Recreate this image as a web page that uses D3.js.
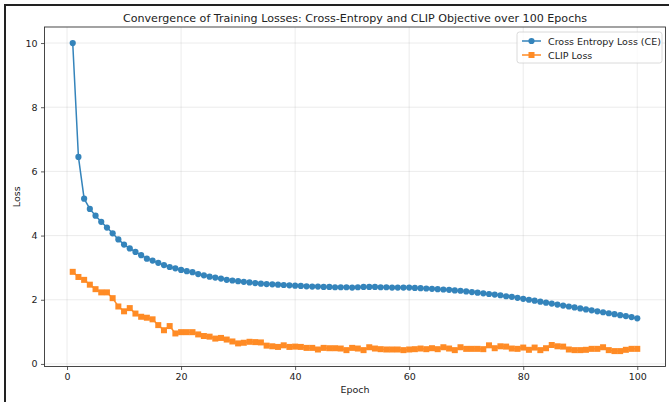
<!DOCTYPE html>
<html>
<head>
<meta charset="utf-8">
<script src="https://cdn.jsdelivr.net/npm/d3@7"></script>
<style>
  body { margin: 0; background: #fff; }
  text { font-family: "DejaVu Sans", sans-serif; fill: #222; }
</style>
</head>
<body>
<div id="chart"></div>
<script>
// epochs 1..100
const epochs = d3.range(1, 101);

const ceLoss = [
  10.0, 6.45, 5.15, 4.83, 4.62, 4.43, 4.25, 4.07, 3.88, 3.72,
  3.60, 3.49, 3.39, 3.28, 3.22, 3.15, 3.08, 3.02, 2.98, 2.93,
  2.89, 2.86, 2.80, 2.76, 2.72, 2.69, 2.66, 2.62, 2.60, 2.58,
  2.56, 2.54, 2.52, 2.50, 2.49, 2.48, 2.47, 2.46, 2.45, 2.44,
  2.43, 2.42, 2.41, 2.41, 2.40, 2.40, 2.39, 2.39, 2.39, 2.38,
  2.39, 2.40, 2.40, 2.40, 2.39, 2.39, 2.38, 2.38, 2.38, 2.38,
  2.37, 2.36, 2.35, 2.34, 2.33, 2.32, 2.31, 2.29, 2.28, 2.26,
  2.24, 2.22, 2.20, 2.18, 2.16, 2.14, 2.11, 2.09, 2.06, 2.03,
  2.00, 1.97, 1.94, 1.91, 1.88, 1.85, 1.82, 1.79, 1.76, 1.73,
  1.70, 1.67, 1.64, 1.61, 1.58, 1.55, 1.52, 1.49, 1.46, 1.42
];

const clipLoss = [
  2.87, 2.71, 2.62, 2.47, 2.33, 2.23, 2.23, 2.05, 1.79, 1.64,
  1.74, 1.57, 1.47, 1.44, 1.39, 1.21, 1.05, 1.18, 0.95, 0.99,
  0.99, 0.99, 0.92, 0.87, 0.85, 0.79, 0.81, 0.76, 0.70, 0.64,
  0.66, 0.69, 0.68, 0.67, 0.57, 0.55, 0.53, 0.58, 0.53, 0.54,
  0.53, 0.50, 0.50, 0.45, 0.50, 0.49, 0.49, 0.48, 0.43, 0.50,
  0.48, 0.43, 0.52, 0.48, 0.46, 0.45, 0.45, 0.45, 0.43, 0.45,
  0.46, 0.48, 0.46, 0.49, 0.46, 0.52, 0.48, 0.43, 0.52, 0.47,
  0.47, 0.47, 0.46, 0.58, 0.49, 0.55, 0.54, 0.48, 0.47, 0.51,
  0.44, 0.51, 0.43, 0.49, 0.59, 0.55, 0.54, 0.45, 0.43, 0.43,
  0.44, 0.47, 0.47, 0.52, 0.43, 0.40, 0.40, 0.44, 0.47, 0.47
];

const xTicks = [0, 20, 40, 60, 80, 100];
const yTicks = [0, 2, 4, 6, 8, 10];
const seriesNames = ["Cross Entropy Loss (CE)", "CLIP Loss"];
const colors = ["#1f77b4", "#ff7f0e"];

const W = 669, H = 402;
const plot = { left: 44.5, right: 665.5, top: 27, bottom: 366.5 };

const svg = d3.select("#chart").append("svg")
  .attr("width", W).attr("height", H);

// outer frame (screenshot border)
svg.append("rect")
  .attr("x", 5).attr("y", 5).attr("width", 720).attr("height", 440)
  .attr("fill", "none").attr("stroke", "#222").attr("stroke-width", 2);

const x = d3.scaleLinear().domain([-3.95, 104.95]).range([plot.left, plot.right]);
const y = d3.scaleLinear().domain([-0.08, 10.5]).range([plot.bottom, plot.top]);

// grid
const grid = svg.append("g");
grid.selectAll(".gx").data(xTicks).join("line")
  .attr("x1", d => x(d)).attr("x2", d => x(d))
  .attr("y1", plot.top).attr("y2", plot.bottom)
  .attr("stroke", "#b0b0b0").attr("stroke-opacity", 0.3).attr("stroke-width", 0.8);
grid.selectAll(".gy").data(yTicks).join("line")
  .attr("x1", plot.left).attr("x2", plot.right)
  .attr("y1", d => y(d)).attr("y2", d => y(d))
  .attr("stroke", "#b0b0b0").attr("stroke-opacity", 0.3).attr("stroke-width", 0.8);

// axes
const xAxis = svg.append("g")
  .attr("transform", `translate(0,${plot.bottom})`)
  .call(d3.axisBottom(x).tickValues(xTicks).tickSize(3.5).tickPadding(3.5).tickFormat(d3.format("d")));
const yAxis = svg.append("g")
  .attr("transform", `translate(${plot.left},0)`)
  .call(d3.axisLeft(y).tickValues(yTicks).tickSize(3.5).tickPadding(3.5).tickFormat(d3.format("d")));
[xAxis, yAxis].forEach(a => {
  a.select(".domain").remove();
  a.selectAll("line").attr("stroke", "#333").attr("stroke-width", 0.8);
  a.selectAll("text").attr("font-size", 9.5).attr("fill", "#222")
    .style("font-family", "DejaVu Sans, sans-serif");
});

// spines
svg.append("rect")
  .attr("x", plot.left).attr("y", plot.top)
  .attr("width", plot.right - plot.left).attr("height", plot.bottom - plot.top)
  .attr("fill", "none").attr("stroke", "#333").attr("stroke-width", 0.9);

// lines
const line = d3.line().x((d, i) => x(epochs[i])).y(d => y(d));
const seriesData = [ceLoss, clipLoss];
const series = svg.append("g").attr("opacity", 0.9);
seriesData.forEach((s, k) => {
  series.append("path").datum(s)
    .attr("d", line)
    .attr("fill", "none").attr("stroke", colors[k]).attr("stroke-width", 1.5);
});

// markers
series.append("g").selectAll("circle").data(ceLoss).join("circle")
  .attr("cx", (d, i) => x(epochs[i])).attr("cy", d => y(d))
  .attr("r", 3.1).attr("fill", colors[0]);
const sq = 6;
series.append("g").selectAll("rect").data(clipLoss).join("rect")
  .attr("x", (d, i) => x(epochs[i]) - sq / 2).attr("y", d => y(d) - sq / 2)
  .attr("width", sq).attr("height", sq).attr("fill", colors[1]);

// title and labels
svg.append("text")
  .attr("x", (plot.left + plot.right) / 2).attr("y", 22)
  .attr("text-anchor", "middle").attr("font-size", 11.1)
  .text("Convergence of Training Losses: Cross-Entropy and CLIP Objective over 100 Epochs");
svg.append("text")
  .attr("x", (plot.left + plot.right) / 2).attr("y", 393)
  .attr("text-anchor", "middle").attr("font-size", 9.5)
  .text("Epoch");
svg.append("text")
  .attr("transform", `translate(20,${(plot.top + plot.bottom) / 2}) rotate(-90)`)
  .attr("text-anchor", "middle").attr("font-size", 9.5)
  .text("Loss");

// legend
const lg = svg.append("g").attr("transform", "translate(517,32)");
lg.append("rect")
  .attr("width", 145).attr("height", 31).attr("rx", 2.5)
  .attr("fill", "#fff").attr("fill-opacity", 0.8)
  .attr("stroke", "#d0d0d0").attr("stroke-width", 0.8);
seriesNames.forEach((name, k) => {
  const cy = 9 + k * 14;
  const item = lg.append("g").attr("opacity", 0.9);
  item.append("line").attr("x1", 5).attr("x2", 24).attr("y1", cy).attr("y2", cy)
    .attr("stroke", colors[k]).attr("stroke-width", 1.5);
  if (k === 0) {
    item.append("circle").attr("cx", 14.5).attr("cy", cy).attr("r", 3.1).attr("fill", colors[k]);
  } else {
    item.append("rect").attr("x", 14.5 - sq / 2).attr("y", cy - sq / 2)
      .attr("width", sq).attr("height", sq).attr("fill", colors[k]);
  }
  lg.append("text").attr("x", 31).attr("y", cy + 3.5)
    .attr("font-size", 9.5).text(name);
});
</script>
</body>
</html>
